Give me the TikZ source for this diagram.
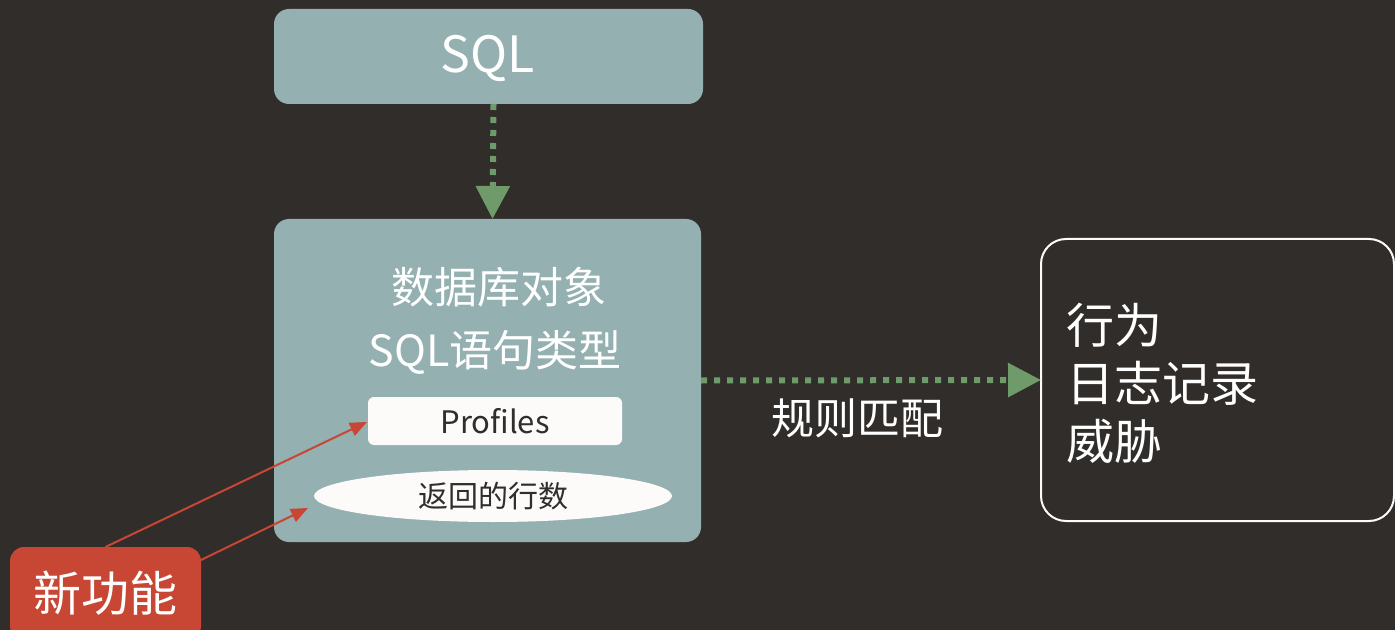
\documentclass[tikz,border=0pt]{standalone}
\usepackage{fontspec}
\newfontfamily\cjk{Noto Sans CJK SC}
\usetikzlibrary{arrows.meta,shapes.geometric}
\definecolor{bg}{HTML}{312D2A}
\definecolor{teal}{HTML}{94B0B0}
\definecolor{grn}{HTML}{6F9B6A}
\definecolor{ored}{HTML}{C74634}
\definecolor{offw}{HTML}{FCFBFA}
\tikzset{
  tealbox/.style={fill=teal, rounded corners=7.5pt, inner sep=0pt, outer sep=0pt},
  whitebox/.style={fill=offw, rounded corners=3pt, inner sep=0pt, outer sep=0pt},
  lbl/.style={inner sep=0pt, outer sep=0pt, font=\cjk},
  dotarrow/.style={draw=grn, line width=3pt, dash pattern=on 3pt off 3.5pt, -{Triangle[width=16.5pt,length=16.5pt]}},
  redarrow/.style={draw=ored, line width=1pt, -{Triangle[width=7pt,length=8.5pt]}}
}
\begin{document}
\begin{tikzpicture}[x=0.5pt,y=-0.5pt]
\fill[bg] (0,0) rectangle (1395,630);
\useasboundingbox (0,0) rectangle (1395,630);
\begin{scope}
\clip (0,0) rectangle (1395,630);
% SQL box
\node[tealbox, minimum width=214.5pt, minimum height=47.5pt] (sql) at (488.5,56.5) {};
\node[lbl, text=white, font=\cjk\fontsize{25}{30}\selectfont] (sqlt) at (488,58) {SQL};
% main box
\node[tealbox, minimum width=213.5pt, minimum height=161.5pt] (main) at (487.5,380.5) {};
\node[lbl, text=white, font=\cjk\fontsize{21.5}{26}\selectfont] (t1) at (499,287) {数据库对象};
\node[lbl, text=white, font=\cjk\fontsize{21.5}{26}\selectfont] (t2) at (495,352) {SQL语句类型};
\node[whitebox, minimum width=127pt, minimum height=24pt, font=\cjk\fontsize{15.5}{19}\selectfont, text=bg] (prof) at (495,421) {Profiles};
\node[ellipse, fill=offw, inner sep=0pt, outer sep=0pt, minimum width=179pt, minimum height=26pt, font=\cjk\fontsize{15}{18}\selectfont, text=bg] (rows) at (493,496) {返回的行数};
% right box
\node[draw=offw, line width=1pt, fill=bg, rounded corners=12.5pt, minimum width=176.5pt, minimum height=141pt, inner sep=0pt, outer sep=0pt] (res) at (1217.5,380) {};
\node[lbl, text=white, anchor=west, align=left, font=\cjk\fontsize{24}{29}\selectfont] (rest) at (1066,383) {行为\\日志记录\\威胁};
% new feature box
\node[fill=ored, rounded corners=7pt, minimum width=95.5pt, minimum height=46.5pt, inner sep=0pt, outer sep=0pt, text=white, font=\cjk\fontsize{24}{29}\selectfont] (new) at (105.5,593.5) {新功能};
% connectors
\draw[dotarrow] ([xshift=2.5pt]sql.south) -- ([xshift=2.5pt]main.north);
\draw[dotarrow] (main.east) -- (res.west);
\node[lbl, text=white, font=\cjk\fontsize{21.5}{26}\selectfont] (rule) at (857,418) {规则匹配};
\coordinate (p1end) at (367,422);
\coordinate (p2start) at (201,560);
\coordinate (p2end) at (308,508);
\draw[redarrow] (new.north) -- (p1end);
\draw[redarrow] (p2start) -- (p2end);
\end{scope}
\end{tikzpicture}
\end{document}
